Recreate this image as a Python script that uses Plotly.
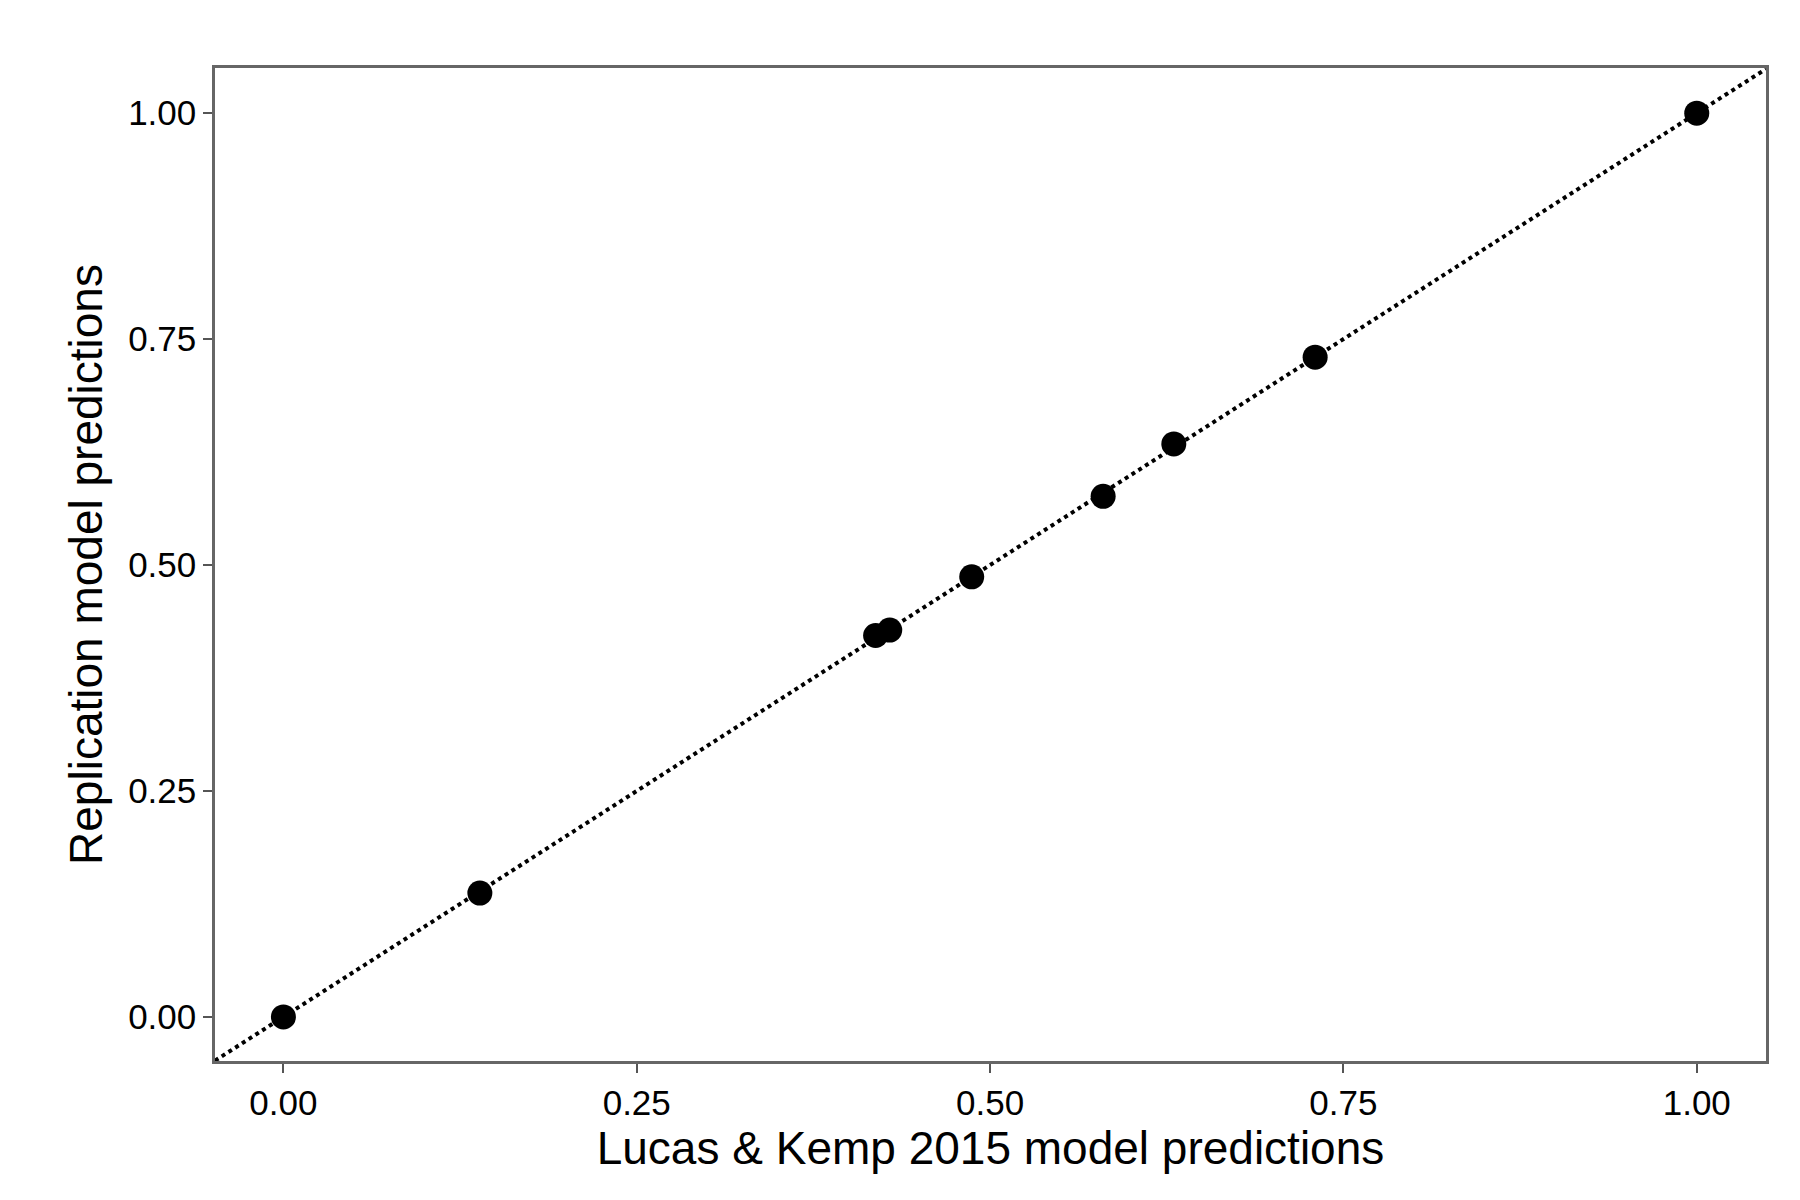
import plotly.graph_objects as go

# model predictions
lucas_kemp = [0.0, 0.139, 0.419, 0.429, 0.487, 0.580, 0.630, 0.730, 1.0]
replication = [0.0, 0.137, 0.422, 0.428, 0.487, 0.576, 0.634, 0.730, 1.0]
tick_vals = [0.0, 0.25, 0.5, 0.75, 1.0]
tick_text = ["0.00", "0.25", "0.50", "0.75", "1.00"]

x_range = [-0.0484, 1.049]
y_range = [-0.0488, 1.05]

fig = go.Figure()
# identity line
fig.add_trace(go.Scatter(
    x=x_range, y=x_range, mode="lines",
    line=dict(color="black", width=4, dash="dot"),
    showlegend=False, hoverinfo="skip"))
fig.add_trace(go.Scatter(
    x=lucas_kemp, y=replication, mode="markers",
    marker=dict(color="black", size=25),
    showlegend=False))

axis_style = dict(
    tickvals=tick_vals, ticktext=tick_text,
    ticks="outside", ticklen=9, tickcolor="#555555", tickwidth=2,
    showgrid=False, zeroline=False,
    showline=True, linecolor="#666666", linewidth=2.5, mirror=True,
    tickfont=dict(size=35, color="black", family="Liberation Sans"),
    automargin=False,
)

fig.update_layout(
    width=1800, height=1200,
    plot_bgcolor="white", paper_bgcolor="white",
    margin=dict(l=207, r=42, t=60, b=147),
    font=dict(family="Liberation Sans", color="black"),
    xaxis=dict(range=x_range,
               title=dict(text="Lucas & Kemp 2015 model predictions",
                          font=dict(size=46), standoff=10),
               **axis_style),
    yaxis=dict(range=y_range,
               title=dict(text="Replication model predictions",
                          font=dict(size=46), standoff=12),
               **axis_style),
)

fig.write_html("out.html")
